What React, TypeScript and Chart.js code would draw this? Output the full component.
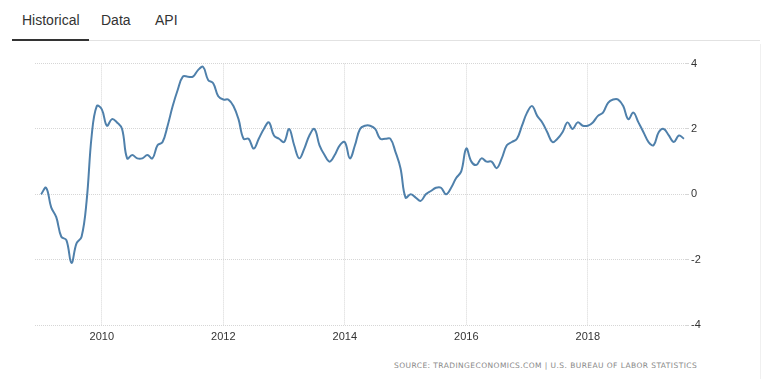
import React, { useEffect, useRef } from "react";
import { Chart, registerables } from "chart.js";

Chart.register(...registerables);

// US inflation rate, year-over-year %, monthly (Jan..Dec)
const cpi2009 = [0.0, 0.2, -0.4, -0.7, -1.3, -1.4, -2.1, -1.5, -1.3, -0.2, 1.8, 2.7];
const cpi2010 = [2.6, 2.1, 2.3, 2.2, 2.0, 1.1, 1.2, 1.1, 1.1, 1.2, 1.1, 1.5];
const cpi2011 = [1.6, 2.1, 2.7, 3.2, 3.6, 3.6, 3.6, 3.8, 3.9, 3.5, 3.4, 3.0];
const cpi2012 = [2.9, 2.9, 2.7, 2.3, 1.7, 1.7, 1.4, 1.7, 2.0, 2.2, 1.8, 1.7];
const cpi2013 = [1.6, 2.0, 1.5, 1.1, 1.4, 1.8, 2.0, 1.5, 1.2, 1.0, 1.2, 1.5];
const cpi2014 = [1.6, 1.1, 1.5, 2.0, 2.1, 2.1, 2.0, 1.7, 1.7, 1.7, 1.3, 0.8];
const cpi2015 = [-0.1, 0.0, -0.1, -0.2, 0.0, 0.1, 0.2, 0.2, 0.0, 0.2, 0.5, 0.7];
const cpi2016 = [1.4, 1.0, 0.9, 1.1, 1.0, 1.0, 0.8, 1.1, 1.5, 1.6, 1.7, 2.1];
const cpi2017 = [2.5, 2.7, 2.4, 2.2, 1.9, 1.6, 1.7, 1.9, 2.2, 2.0, 2.2, 2.1];
const cpi2018 = [2.1, 2.2, 2.4, 2.5, 2.8, 2.9, 2.9, 2.7, 2.3, 2.5, 2.2, 1.9];
const cpi2019 = [1.6, 1.5, 1.9, 2.0, 1.8, 1.6, 1.8, 1.7];

const years = [2009, 2010, 2011, 2012, 2013, 2014, 2015, 2016, 2017, 2018, 2019];
const series = [cpi2009, cpi2010, cpi2011, cpi2012, cpi2013, cpi2014, cpi2015, cpi2016, cpi2017, cpi2018, cpi2019];

const xTicks = [2010, 2012, 2014, 2016, 2018];
const yTicks = [-4, -2, 0, 2, 4];

const tabs = ["Historical", "Data", "API"];
const sourceText = "SOURCE: TRADINGECONOMICS.COM | U.S. BUREAU OF LABOR STATISTICS";

export default function App() {
  const ref = useRef<HTMLCanvasElement | null>(null);

  useEffect(() => {
    if (!ref.current) return;
    const points: { x: number; y: number }[] = [];
    years.forEach((yr, i) => {
      series[i].forEach((v, m) => points.push({ x: yr + m / 12, y: v }));
    });
    const gridColor = "#d6d6d6";
    const chart = new Chart(ref.current, {
      type: "line",
      data: {
        datasets: [
          {
            data: points,
            borderColor: "#4f80ab",
            borderWidth: 2,
            pointRadius: 0,
            tension: 0.4,
            fill: false,
          },
        ],
      },
      options: {
        animation: false,
        responsive: false,
        layout: { padding: { left: 35, top: 8, right: 0, bottom: 0 } },
        plugins: { legend: { display: false }, tooltip: { enabled: false } },
        scales: {
          x: {
            type: "linear",
            min: 2008.9,
            max: 2019.6,
            afterBuildTicks: (s: any) => {
              s.ticks = xTicks.map((v) => ({ value: v }));
            },
            afterFit: (s: any) => {
              s.height = 20;
            },
            grid: { color: gridColor, drawTicks: false, lineWidth: 1 },
            border: { display: false, dash: [1, 1] },
            ticks: {
              padding: 5,
              color: "#333",
              font: { family: "Arial, 'Liberation Sans'", size: 11 },
              callback: (v: any) => String(v),
              maxRotation: 0,
            },
          },
          y: {
            position: "right",
            min: -4,
            max: 4,
            afterBuildTicks: (s: any) => {
              s.ticks = yTicks.map((v) => ({ value: v }));
            },
            afterFit: (s: any) => {
              s.width = 55;
            },
            grid: { color: gridColor, drawTicks: true, tickLength: 4, lineWidth: 1 },
            border: { display: false, dash: [1, 1] },
            ticks: {
              padding: 2,
              color: "#333",
              font: { family: "Arial, 'Liberation Sans'", size: 11 },
            },
          },
        },
      },
    });
    return () => chart.destroy();
  }, []);

  return (
    <div
      style={{
        position: "absolute",
        left: 0,
        top: 0,
        width: 768,
        height: 379,
        background: "#fff",
        overflow: "hidden",
        fontFamily: "Arial, 'Liberation Sans', sans-serif",
      }}
    >
      <div style={{ position: "absolute", left: 89, top: 40, width: 671, height: 1, background: "#e2e2e2" }} />
      <div style={{ position: "absolute", left: 12, top: 39, width: 77, height: 2, background: "#333" }} />
      {tabs.map((t, i) => (
        <div
          key={t}
          style={{
            position: "absolute",
            left: [22, 101, 155][i],
            top: 11,
            fontSize: 14,
            color: "#333",
            lineHeight: "18px",
          }}
        >
          {t}
        </div>
      ))}
      <div style={{ position: "absolute", left: 760, top: 44, width: 1, height: 335, background: "#f0f0f0" }} />
      <canvas ref={ref} width={740} height={290} style={{ position: "absolute", left: 0, top: 55, width: 740, height: 290 }} />
      <div
        style={{
          position: "absolute",
          left: 394,
          top: 361,
          fontSize: 7.5,
          letterSpacing: 0.43,
          color: "#888",
          fontFamily: "'DejaVu Sans', Verdana, sans-serif",
          whiteSpace: "nowrap",
          lineHeight: "10px",
        }}
      >
        {sourceText}
      </div>
    </div>
  );
}
